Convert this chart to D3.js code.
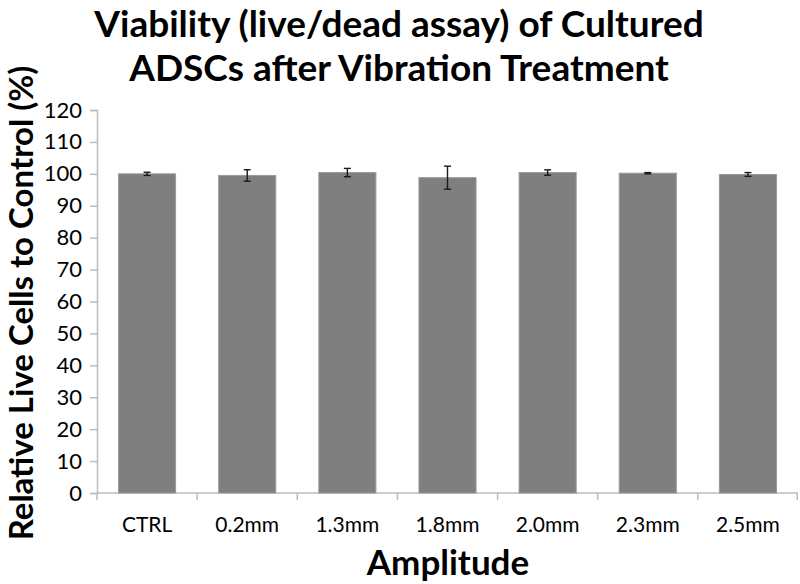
<!DOCTYPE html>
<html>
<head>
<meta charset="utf-8">
<script src="https://cdn.jsdelivr.net/npm/d3@7"></script>
<style>
  body { margin: 0; background: #fff; }
  text { font-family: Lato, "Open Sans", sans-serif; fill: #000; }
</style>
</head>
<body>
<div id="chart"></div>
<script>
// Chart data
var categories = ['CTRL', '0.2mm', '1.3mm', '1.8mm', '2.0mm', '2.3mm', '2.5mm']
var viability = [100.0, 99.5, 100.4, 98.8, 100.4, 100.2, 99.8]
var errors = [0.5, 1.8, 1.3, 3.6, 0.85, 0.2, 0.6]
var yTicks = d3.range(0, 121, 10)

// Layout
var width = 800
var height = 584
var margin = { top: 110, right: 2, bottom: 91, left: 97 }
var innerW = width - margin.left - margin.right
var innerH = height - margin.top - margin.bottom

var svg = d3.select('#chart').append('svg')
  .attr('width', width)
  .attr('height', height)

var g = svg.append('g')
  .attr('transform', 'translate(' + margin.left + ',' + margin.top + ')')

var x = d3.scaleBand()
  .domain(categories)
  .range([0, innerW])
  .paddingInner(0.43)
  .paddingOuter(0.215)

var y = d3.scaleLinear()
  .domain([0, 120])
  .range([innerH, 0])

// Y axis
var yAxis = g.append('g')
  .call(d3.axisLeft(y).tickValues(yTicks).tickSize(7).tickPadding(8))
yAxis.select('.domain').attr('stroke', '#bdbdbd').attr('stroke-width', 1.5)
yAxis.selectAll('.tick line').attr('stroke', '#bdbdbd').attr('stroke-width', 1.5)
yAxis.selectAll('.tick text')
  .style('font-size', '22px')
  .style('font-family', 'Lato, sans-serif')
  .attr('fill', '#000')

// X axis with ticks between categories
var xAxis = g.append('g')
  .attr('transform', 'translate(0,' + innerH + ')')
xAxis.append('line')
  .attr('x1', 0).attr('x2', innerW)
  .attr('stroke', '#bdbdbd').attr('stroke-width', 1.5)
xAxis.selectAll('.xtick')
  .data(d3.range(categories.length + 1))
  .enter().append('line')
  .attr('class', 'xtick')
  .attr('x1', function (d) { return Math.min(d * innerW / categories.length, innerW - 0.75) })
  .attr('x2', function (d) { return Math.min(d * innerW / categories.length, innerW - 0.75) })
  .attr('y1', 0).attr('y2', 7)
  .attr('stroke', '#bdbdbd').attr('stroke-width', 1.5)
xAxis.selectAll('.xlabel')
  .data(categories)
  .enter().append('text')
  .attr('class', 'xlabel')
  .attr('x', function (d) { return x(d) + x.bandwidth() / 2 })
  .attr('y', 39)
  .attr('text-anchor', 'middle')
  .style('font-size', '21px')
  .text(function (d) { return d })

// Bars
g.selectAll('.bar')
  .data(categories)
  .enter().append('rect')
  .attr('class', 'bar')
  .attr('x', function (d) { return x(d) })
  .attr('y', function (d, i) { return y(viability[i]) })
  .attr('width', x.bandwidth())
  .attr('height', function (d, i) { return innerH - y(viability[i]) })
  .attr('fill', '#7f7f7f')
  .attr('stroke', '#9a9a9a')
  .attr('stroke-width', 1)

// Error bars
var err = g.selectAll('.err')
  .data(categories)
  .enter().append('g')
  .attr('class', 'err')
  .attr('transform', function (d) { return 'translate(' + (x(d) + x.bandwidth() / 2) + ',0)' })
  .attr('stroke', '#1a1a1a')
  .attr('stroke-width', 1.4)
err.append('line')
  .attr('y1', function (d, i) { return y(viability[i] + errors[i]) })
  .attr('y2', function (d, i) { return y(viability[i] - errors[i]) })
err.append('line')
  .attr('x1', -3.5).attr('x2', 3.5)
  .attr('y1', function (d, i) { return y(viability[i] + errors[i]) })
  .attr('y2', function (d, i) { return y(viability[i] + errors[i]) })
err.append('line')
  .attr('x1', -3.5).attr('x2', 3.5)
  .attr('y1', function (d, i) { return y(viability[i] - errors[i]) })
  .attr('y2', function (d, i) { return y(viability[i] - errors[i]) })

// Title
var title = svg.append('text')
  .attr('x', 399)
  .attr('text-anchor', 'middle')
  .style('font-size', '37px')
  .style('font-weight', 'bold')
title.append('tspan').attr('x', 399).attr('y', 37).text('Viability (live/dead assay) of Cultured')
title.append('tspan').attr('x', 399).attr('y', 81).text('ADSCs after Vibration Treatment')

// Axis titles
svg.append('text')
  .attr('x', 448)
  .attr('y', 575)
  .attr('text-anchor', 'middle')
  .style('font-size', '35px')
  .style('font-weight', 'bold')
  .text('Amplitude')

svg.append('text')
  .attr('transform', 'translate(33,303) rotate(-90)')
  .attr('text-anchor', 'middle')
  .style('font-size', '33px')
  .style('font-weight', 'bold')
  .text('Relative Live Cells to Control (%)')
</script>
</body>
</html>
